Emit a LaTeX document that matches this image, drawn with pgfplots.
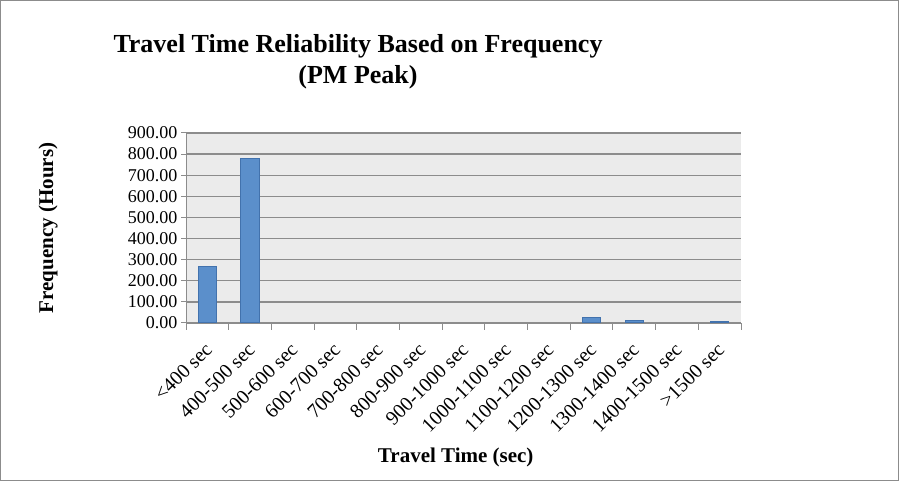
\documentclass[border=0pt]{standalone}
\usepackage{pgfplots}
\pgfplotsset{compat=1.18}
\usepackage{fontspec}
\setmainfont{Liberation Serif}
\definecolor{barfill}{HTML}{5B8FCB}
\definecolor{bardraw}{HTML}{4272AD}
\definecolor{gridc}{HTML}{8C8C8C}
\definecolor{plotbg}{HTML}{EBEBEB}
\begin{document}
\begin{tikzpicture}[x=1pt,y=1pt]
\draw[gridc, line width=1.2pt] (0.6,0.6) rectangle (898.4,480.4);
\node[font=\bfseries\fontsize{26}{31}\selectfont, align=center] at (358,419) {Travel Time Reliability Based on Frequency\\(PM Peak)};
\begin{axis}[
  at={(186pt,158pt)}, anchor=south west,
  scale only axis, width=555pt, height=190pt,
  xmin=-0.5, xmax=12.5, ymin=0, ymax=900,
  axis lines=left,
  axis line style={gridc, line width=1pt, -},
  axis background/.style={fill=plotbg},
  ytick={0,100,...,900},
  ymajorgrids, major grid style={gridc, line width=1.3pt},
  xtick={0,...,12},
  xticklabels={{<400 sec},{400-500 sec},{500-600 sec},{600-700 sec},{700-800 sec},{800-900 sec},{900-1000 sec},{1000-1100 sec},{1100-1200 sec},{1200-1300 sec},{1300-1400 sec},{1400-1500 sec},{>1500 sec}},
  minor xtick={-0.5,0.5,...,12.5},
  major x tick style={draw=none},
  minor x tick style={gridc, line width=1pt},
  major y tick style={gridc, line width=1pt},
  tick align=outside,
  major tick length=5pt, minor tick length=7pt,
  x tick label style={rotate=45, anchor=north east, font=\fontsize{20}{22}\selectfont, inner sep=1pt, yshift=-6pt, xshift=-11pt},
  y tick label style={font=\fontsize{18}{20}\selectfont},
  /pgf/number format/assume math mode=true,
  yticklabel={\pgfmathprintnumber[fixed,precision=2,zerofill]{\tick}},
  xlabel={\bfseries Travel Time (sec)},
  ylabel={\bfseries Frequency (Hours)},
  every axis x label/.style={at={(axis description cs:0.486,-0.71)}, anchor=center, font=\fontsize{21}{23}\selectfont},
  every axis y label/.style={at={(axis description cs:-0.2486,0.5)}, rotate=90, anchor=center, font=\fontsize{21}{23}\selectfont},
]
\addplot[ybar, bar width=0.43, fill=barfill, draw=bardraw, line width=1pt] coordinates {
(0,267) (1,778) (9,24) (10,13) (12,6)
};
\end{axis}
\end{tikzpicture}
\end{document}
